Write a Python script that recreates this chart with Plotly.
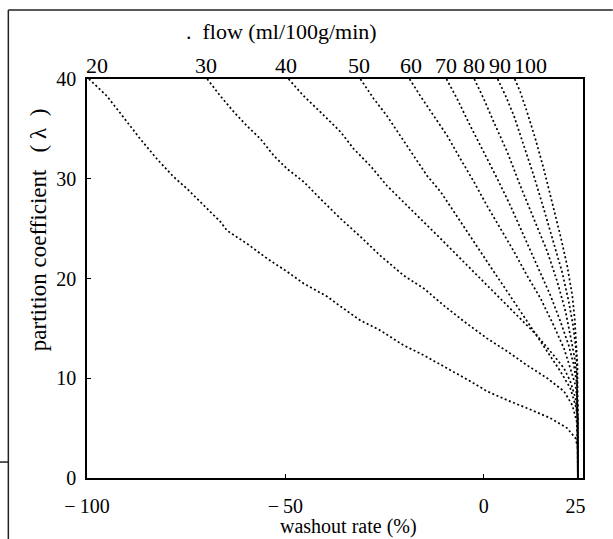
import plotly.graph_objects as go

# ---- data ----
flows = [20, 30, 40, 50, 60, 70, 80, 90, 100]

x_20 = [-99.5, -95.0, -89.9, -86.6, -82.4, -78.2, -74.8, -70.6, -66.4, -64.7, -59.7, -54.6, -49.6, -45.4,
        -39.5, -36.1, -31.1, -26.1, -20.2, -15.1, -9.2, -3.4, 0.8, 5.9, 10.9, 16.8, 21.0, 23.1, 23.7, 23.7]
y_20 = [40, 38.3, 35.7, 34.0, 32.0, 30.2, 29.0, 27.3, 25.7, 24.8, 23.5, 22.0, 20.7, 19.5,
        18.2, 17.2, 15.8, 14.8, 13.3, 12.3, 11.0, 9.7, 8.7, 7.8, 7.0, 6.0, 5.0, 4.0, 3.0, 0]

x_30 = [-69.7, -66.4, -63.0, -59.7, -56.3, -52.9, -49.6, -45.4, -41.2, -36.1, -31.1, -26.1, -20.2,
        -15.1, -10.1, -5.0, 0.8, 5.9, 10.9, 16.0, 20.2, 22.3, 23.4, 23.7, 23.7]
y_30 = [40, 38.3, 36.7, 35.3, 34.0, 32.3, 31.0, 29.7, 28.0, 26.0, 24.2, 22.3, 20.3,
        19.0, 17.3, 15.7, 14.0, 12.7, 11.3, 10.0, 8.7, 7.3, 5.7, 3.3, 0]

x_40 = [-49.2, -45.4, -41.2, -36.1, -32.8, -28.6, -24.4, -20.2, -16.0, -10.9, -5.9, -0.8, 4.2,
        9.2, 13.4, 17.6, 20.2, 21.8, 23.1, 23.7, 23.7]
y_40 = [40, 38.3, 36.7, 34.7, 33.0, 31.3, 29.3, 27.7, 26.0, 24.0, 22.0, 20.0, 18.0,
        16.0, 14.3, 12.3, 11.0, 9.7, 8.0, 6.0, 0]

x_50 = [-31.1, -27.7, -24.4, -21.0, -17.6, -14.3, -10.9, -7.6, -4.2, -0.8, 2.5, 5.9, 9.2,
        12.6, 16.0, 19.3, 21.8, 23.1, 23.7, 23.7]
y_50 = [40, 38.0, 36.3, 34.3, 32.3, 30.3, 28.7, 26.7, 24.7, 22.7, 20.7, 18.7, 16.7,
        14.7, 12.7, 10.7, 9.0, 7.3, 6.0, 0]

x_60 = [-18.7, -16.0, -12.6, -9.2, -5.9, -2.5, 0.8, 4.2, 7.6, 10.9, 14.3, 17.6, 20.2, 21.8, 23.1, 23.7, 23.7]
y_60 = [40, 38.3, 36.3, 34.3, 32.0, 29.7, 27.3, 25.0, 22.7, 20.3, 18.0, 15.3, 13.0, 11.0, 9.3, 7.3, 0]

x_70 = [-9.4, -6.7, -3.4, 0.0, 3.4, 6.7, 10.1, 13.4, 16.8, 19.3, 21.4, 22.7, 23.5, 23.7]
y_70 = [40, 38.0, 35.3, 32.7, 30.0, 27.3, 24.3, 21.3, 18.3, 15.7, 13.3, 11.3, 9.3, 0]

x_80 = [-2.4, 0.0, 2.5, 5.9, 9.2, 12.6, 16.0, 18.5, 20.6, 21.8, 22.9, 23.5, 23.7]
y_80 = [40, 38.0, 35.7, 32.7, 29.3, 26.0, 22.7, 19.7, 16.7, 14.3, 12.0, 10.0, 0]

x_90 = [3.5, 5.5, 7.6, 10.1, 12.6, 15.1, 17.6, 19.7, 21.4, 22.5, 23.2, 23.5, 23.7]
y_90 = [40, 38.3, 36.3, 33.3, 30.3, 27.0, 23.7, 20.7, 17.7, 15.3, 13.0, 11.0, 0]

x_100 = [7.8, 9.2, 10.9, 13.0, 15.1, 17.2, 19.3, 21.0, 22.3, 22.9, 23.4, 23.6, 23.7]
y_100 = [40, 38.7, 36.7, 34.0, 31.0, 27.7, 24.3, 21.3, 18.3, 16.0, 13.3, 11.3, 0]

curve_x = [x_20, x_30, x_40, x_50, x_60, x_70, x_80, x_90, x_100]
curve_y = [y_20, y_30, y_40, y_50, y_60, y_70, y_80, y_90, y_100]

# positions (washout rate) of the flow labels along the top edge
flow_label_x = [-97.5, -69.9, -49.8, -31.5, -18.4, -9.6, -2.4, 4.2, 11.7]
flow_label_text = [str(f) for f in flows]

x_tickvals = [-100, -50, 0, 25]
x_ticktext = ["\u2212\u2009100", "\u2212\u200950", "0", "25\u00a0\u00a0\u00a0"]
y_tickvals = [0, 10, 20, 30, 40]
y_ticktext = ["0", "10", "20", "30", "40"]

FONT = "Liberation Serif, Times New Roman, serif"

fig = go.Figure()
for xs, ys, f in zip(curve_x, curve_y, flows):
    fig.add_trace(go.Scatter(
        x=xs, y=ys, mode="lines", name=str(f),
        line=dict(color="black", width=1.7, dash="2px,2.5px"),
        showlegend=False, hoverinfo="skip"))

annotations = []
for xv, t in zip(flow_label_x, flow_label_text):
    annotations.append(dict(x=xv, y=1.035, xref="x", yref="paper", text=t,
                            showarrow=False, xanchor="center", yanchor="middle",
                            font=dict(family=FONT, size=22, color="black")))
annotations.append(dict(x=0.392, y=1.118, xref="paper", yref="paper",
                        text=".\u00a0\u00a0flow (ml/100g/min)", showarrow=False,
                        xanchor="center", yanchor="middle",
                        font=dict(family=FONT, size=22, color="black")))
annotations.append(dict(x=0.528, y=-0.121, xref="paper", yref="paper",
                        text="washout rate (%)", showarrow=False,
                        xanchor="center", yanchor="middle",
                        font=dict(family=FONT, size=20, color="black")))
annotations.append(dict(x=-0.098, y=0.622, xref="paper", yref="paper",
                        text="partition coefficient\u00a0\u00a0\u00a0(\u00a0\u03bb\u00a0\u00a0)", showarrow=False,
                        textangle=-90, xanchor="center", yanchor="middle",
                        font=dict(family=FONT, size=23, color="black")))

# scanned page border lines (outside plot area)
shapes = [
    dict(type="line", xref="paper", yref="paper", x0=-0.1586, x1=1.06, y0=1.173, y1=1.173,
         line=dict(color="#222", width=1.5)),
    dict(type="line", xref="paper", yref="paper", x0=-0.1586, x1=-0.1586, y0=1.173, y1=-0.16,
         line=dict(color="#222", width=1.5)),
    dict(type="line", xref="paper", yref="paper", x0=-0.18, x1=-0.1586, y0=0.040, y1=0.040,
         line=dict(color="#222", width=1.5)),
]

axis_common = dict(showgrid=False, zeroline=False, showline=True, mirror=True,
                   linecolor="black", linewidth=1.5, ticks="inside", ticklen=4,
                   tickcolor="black", tickwidth=1)

fig.update_layout(
    width=613, height=539,
    margin=dict(l=87, r=28, t=79, b=61),
    paper_bgcolor="white", plot_bgcolor="white",
    xaxis=dict(range=[-100, 25], tickvals=x_tickvals, ticktext=x_ticktext,
               ticklabelstandoff=9,
               tickfont=dict(family=FONT, size=20, color="black"), **axis_common),
    yaxis=dict(range=[0, 40], tickvals=y_tickvals, ticktext=y_ticktext,
               ticklabelstandoff=5,
               tickfont=dict(family=FONT, size=20, color="black"), **axis_common),
    annotations=annotations, shapes=shapes,
)

fig.write_html("out.html", config={"displayModeBar": False},
               post_script="document.body.style.margin='0px';")
